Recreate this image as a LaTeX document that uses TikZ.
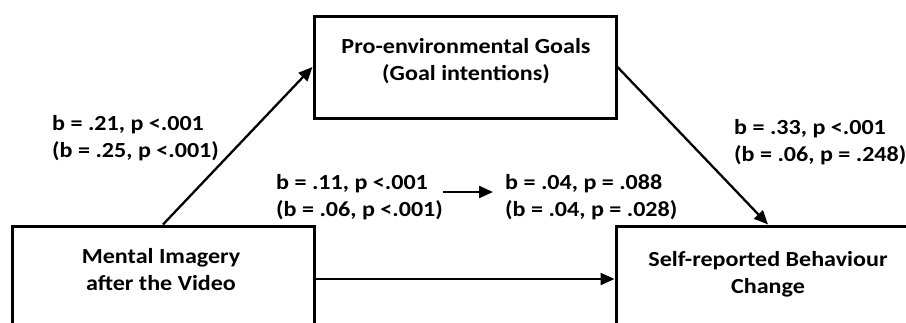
\documentclass[tikz,border=0pt]{standalone}
\usepackage{fontspec}
\setmainfont{Carlito}[FakeStretch=1.12]
\usetikzlibrary{arrows.meta}
\begin{document}
\begin{tikzpicture}[x=1pt,y=-1pt,
  box/.style={draw=black,line width=3pt,inner sep=0pt,minimum width=302pt},
  txt/.style={font=\fontsize{21.5}{27}\selectfont\bfseries,align=center,inner sep=0pt},
  stat/.style={font=\fontsize{21.5}{27}\selectfont\bfseries,align=left,inner sep=0pt,anchor=west},
  conn/.style={line width=2.3pt,-{Triangle[length=14pt,width=12pt]}}]
\useasboundingbox[fill=white] (0,0) rectangle (906,322);
\node[box,minimum height=102pt] (goal) at (465,67) {};
\node[box,minimum height=106pt] (ment) at (163,279) {};
\node[box,minimum height=106pt,minimum width=304pt] (beh) at (768,279) {};
\node[txt] (goalT) at (466,61) {Pro-environmental Goals\\(Goal intentions)};
\node[txt] (mentT) at (161,270) {Mental Imagery\\after the Video};
\node[txt] (behT) at (768,274) {Self-reported Behaviour\\Change};
\node[stat] (s1) at (52,138) {b = .21, p <.001\\(b = .25, p <.001)};
\node[stat] (s2) at (276,197) {b = .11, p <.001\\(b = .06, p <.001)};
\node[stat] (s3) at (505,197) {b = .04, p = .088\\(b = .04, p = .028)};
\node[stat] (s4) at (734,142) {b = .33, p <.001\\(b = .06, p = .248)};
\coordinate (a1) at (443,192);
\coordinate (a2) at (493,192);
\draw[conn] (ment.north) -- (goal.west);
\draw[conn] (goal.east) -- (beh.north);
\draw[conn] (ment.east) -- (beh.west);
\draw[conn] (a1) -- (a2);
\end{tikzpicture}
\end{document}
